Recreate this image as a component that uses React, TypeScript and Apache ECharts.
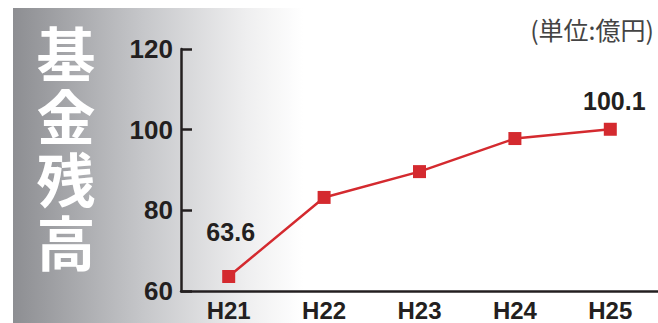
import React, { useEffect, useRef } from "react";
import * as echarts from "echarts";

const categories = ["H21", "H22", "H23", "H24", "H25"];
const values = [63.6, 83.2, 89.6, 97.8, 100.1];
const yTicks = { min: 60, max: 120, interval: 20 };
const titleChars = ["基", "金", "残", "高"];
const unitText = "(単位:億円)";

export default function App() {
  const ref = useRef<HTMLDivElement>(null);
  useEffect(() => {
    if (!ref.current) return;
    const chart = echarts.init(ref.current, undefined, { renderer: "svg" });
    const labelFont = {
      fontFamily: "Liberation Sans, Arial, sans-serif",
      fontWeight: "bold" as const,
      fontSize: 25,
      color: "#231f20",
    };
    chart.setOption({
      animation: false,
      backgroundColor: "#ffffff",
      graphic: [
        {
          type: "rect",
          z: -10,
          silent: true,
          shape: { x: 13, y: 8, width: 290, height: 320 },
          style: {
            fill: new echarts.graphic.LinearGradient(0, 0, 1, 0, [
              { offset: 0, color: "#8d8e92" },
              { offset: 0.45, color: "#c6c7ca" },
              { offset: 0.8, color: "#eeeeef" },
              { offset: 1, color: "#ffffff" },
            ]),
          },
        },
        ...titleChars.map((ch, i) => ({
          type: "text",
          z: 10,
          x: 66,
          y: 51 + i * 63,
          style: {
            text: ch,
            fill: "#ffffff",
            fontSize: 59,
            fontWeight: "bold",
            fontFamily: "Noto Sans CJK JP",
            align: "center",
            verticalAlign: "middle",
          },
        })),
        {
          type: "text",
          z: 10,
          x: 654,
          y: 29,
          style: {
            text: unitText,
            fill: "#444444",
            fontSize: 25,
            fontFamily: "Noto Sans CJK JP",
            align: "right",
            verticalAlign: "middle",
          },
        },
      ],
      grid: { left: 181, right: -2, top: 49, bottom: 32, containLabel: false },
      xAxis: {
        type: "category",
        data: categories,
        boundaryGap: true,
        axisLine: { lineStyle: { color: "#231f20", width: 2.5 } },
        axisTick: { inside: true, length: 6, lineStyle: { color: "#231f20", width: 2 } },
        axisLabel: { ...labelFont, fontSize: 24, margin: 7 },
        splitLine: { show: false },
      },
      yAxis: {
        type: "value",
        min: yTicks.min,
        max: yTicks.max,
        interval: yTicks.interval,
        axisLine: { show: true, lineStyle: { color: "#231f20", width: 2.5 } },
        axisTick: { show: true, inside: true, length: 11, lineStyle: { color: "#231f20", width: 2.5 } },
        axisLabel: { ...labelFont, fontSize: 26, margin: 8 },
        splitLine: { show: false },
      },
      series: [
        {
          type: "line",
          data: values.map((v, i) => {
            if (i === 0)
              return { value: v, label: { show: true, position: "top", distance: 25, offset: [2, 0] } };
            if (i === values.length - 1)
              return { value: v, label: { show: true, position: "top", distance: 9, offset: [4, 0] } };
            return v;
          }),
          symbol: "rect",
          symbolSize: 13,
          lineStyle: { color: "#d42a2f", width: 2.5 },
          itemStyle: { color: "#d42a2f" },
          label: { show: false, ...labelFont, formatter: (p: any) => Number(p.value).toFixed(1) },
        },
      ],
    });
    return () => chart.dispose();
  }, []);
  return (
    <div
      ref={ref}
      style={{ position: "absolute", left: 0, top: 0, width: 658, height: 323 }}
    />
  );
}
